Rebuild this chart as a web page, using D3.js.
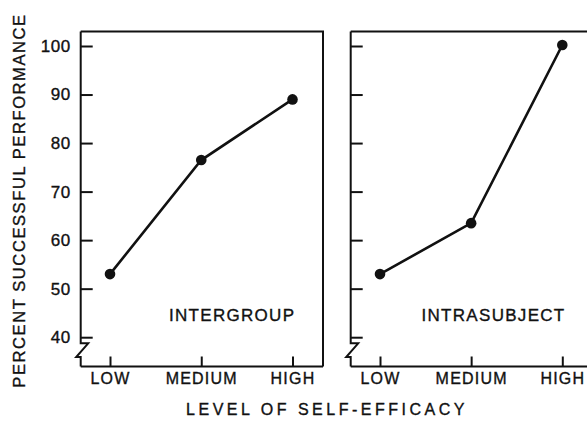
<!DOCTYPE html>
<html>
<head>
<meta charset="utf-8">
<script src="https://cdn.jsdelivr.net/npm/d3@7"></script>
<style>
  html, body { margin: 0; padding: 0; background: #fff; }
  svg { display: block; }
  text { font-family: "Liberation Sans", Arial, sans-serif; fill: #111; stroke: #111; stroke-width: 0.35px; }
</style>
</head>
<body>
<svg id="chart" width="587" height="427"></svg>
<script>
// Self-efficacy level vs. percent successful performance
const categories = ["LOW", "MEDIUM", "HIGH"];
const intergroup = [53, 76.5, 89];
const intrasubject = [53, 63.5, 100.2];
const yTicks = [40, 50, 60, 70, 80, 90, 100];
const panelNames = ["INTERGROUP", "INTRASUBJECT"];
const yTitle = "PERCENT SUCCESSFUL PERFORMANCE";
const xTitle = "LEVEL OF SELF-EFFICACY";

const svg = d3.select("#chart");
const ink = "#111";
const fontFamily = "Liberation Sans, Arial, sans-serif";

const frameTop = 31.5, frameBottom = 366.5;
const y = d3.scaleLinear().domain([40, 100]).range([337.2, 46]);

const panels = [
  { name: panelNames[0], values: intergroup, left: 80.7, right: 323, xr: [110, 292.5], closed: true, labels: true, nameX: 169 },
  { name: panelNames[1], values: intrasubject, left: 350.7, right: 590, xr: [380, 562.3], closed: false, labels: false, nameX: 421.5 }
];

panels.forEach(p => {
  const g = svg.append("g");
  const x = d3.scalePoint().domain(categories).range(p.xr);

  // frame: top edge, bottom edge, optional right edge
  const frame = d3.path();
  frame.moveTo(p.left, frameTop); frame.lineTo(p.right, frameTop);
  if (p.closed) frame.lineTo(p.right, frameBottom);
  frame.moveTo(p.left, frameBottom); frame.lineTo(p.right, frameBottom);
  g.append("path").attr("d", frame.toString())
    .attr("fill", "none").attr("stroke", ink).attr("stroke-width", 2);

  // left axis with a break near the bottom
  const brk = d3.line()([
    [p.left, frameTop], [p.left, 343.3], [p.left + 7.5, 343.3],
    [p.left - 4.5, 357], [p.left, 357], [p.left, frameBottom]
  ]);
  g.append("path").attr("d", brk)
    .attr("fill", "none").attr("stroke", ink).attr("stroke-width", 2)
    .attr("stroke-linejoin", "miter");

  // y axis: inward ticks
  const yAxis = d3.axisLeft(y).tickValues(yTicks)
    .tickSizeInner(-12).tickSizeOuter(0).tickPadding(10)
    .tickFormat(p.labels ? d3.format("d") : () => "");
  const ya = g.append("g").attr("transform", `translate(${p.left},0)`).call(yAxis);
  ya.select(".domain").remove();
  ya.selectAll(".tick line").attr("stroke", ink).attr("stroke-width", 2);
  ya.selectAll(".tick text")
    .attr("font-size", 17).attr("letter-spacing", 0.5)
    .attr("fill", ink).attr("font-family", fontFamily);

  // x axis: upward ticks
  const xAxis = d3.axisBottom(x).tickSizeInner(-10).tickSizeOuter(0).tickPadding(6);
  const xa = g.append("g").attr("transform", `translate(0,${frameBottom})`).call(xAxis);
  xa.select(".domain").remove();
  xa.selectAll(".tick line").attr("stroke", ink).attr("stroke-width", 2);
  xa.selectAll(".tick text")
    .attr("font-size", 16).attr("letter-spacing", 1.2)
    .attr("fill", ink).attr("font-family", fontFamily);

  // series line and points
  const pts = categories.map((c, i) => [x(c), y(p.values[i])]);
  g.append("path").attr("d", d3.line()(pts))
    .attr("fill", "none").attr("stroke", ink).attr("stroke-width", 2.6);
  g.selectAll("circle").data(pts).join("circle")
    .attr("cx", d => d[0]).attr("cy", d => d[1]).attr("r", 5.3)
    .attr("fill", ink);

  // panel name
  g.append("text").attr("x", p.nameX).attr("y", 321)
    .attr("font-size", 17).attr("letter-spacing", 1.3)
    .text(p.name);
});

// axis titles
svg.append("text")
  .attr("transform", "translate(24.5,200.5) rotate(-90)")
  .attr("text-anchor", "middle")
  .attr("font-size", 16.5).attr("letter-spacing", 1.6)
  .text(yTitle);

svg.append("text")
  .attr("x", 327).attr("y", 415)
  .attr("text-anchor", "middle")
  .attr("font-size", 16).attr("letter-spacing", 3.5)
  .text(xTitle);
</script>
</body>
</html>
